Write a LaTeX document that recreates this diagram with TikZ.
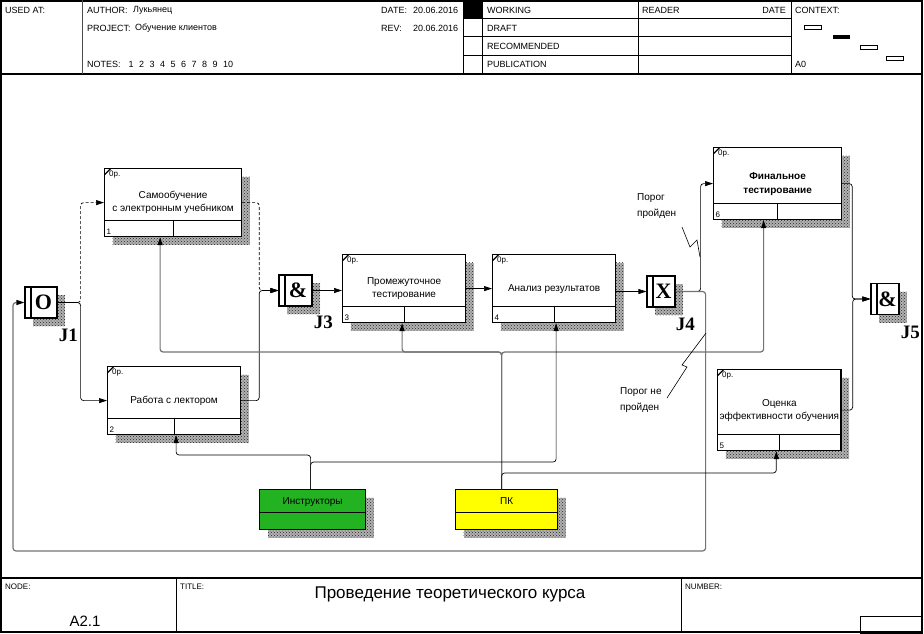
\documentclass[tikz,border=0pt]{standalone}
\usepackage{fontspec}
\setmainfont{Liberation Sans}
\newfontfamily\jfont{Liberation Serif}
\usepackage{tikz}
\usetikzlibrary{arrows.meta, positioning, shadows, patterns}
\definecolor{insgreen}{RGB}{34,178,34}
\definecolor{pkyellow}{RGB}{255,255,0}

\begin{document}
\begin{tikzpicture}[x=1pt, y=-1pt,
    every node/.style={font=\fontsize{10}{13}\selectfont},
    hdr/.style={anchor=west, inner sep=0pt, font=\fontsize{9}{9}\selectfont},
    ftr/.style={anchor=west, inner sep=0pt, font=\fontsize{8}{8}\selectfont},
    tag/.style={inner sep=2.5pt, font=\fontsize{8}{8}\selectfont},
    shdw/.style={general shadow={shadow xshift=8pt, shadow yshift=-8pt, fill=black!30},
        general shadow={shadow xshift=8pt, shadow yshift=-8pt, pattern=crosshatch dots, pattern color=black!85}},
    uow/.style={draw, line width=1.2pt, fill=white, anchor=north west, align=center, inner sep=2pt, shdw,
        path picture={
            \draw[line width=1.2pt] ([yshift=16pt]path picture bounding box.south west) -- ([yshift=16pt]path picture bounding box.south east);
            \draw[line width=1.2pt] ([yshift=16pt]path picture bounding box.south) -- (path picture bounding box.south);
            \draw[line width=1.2pt] ([yshift=-6pt]path picture bounding box.north west) -- ([xshift=6pt]path picture bounding box.north west);
        },
        label={[tag, anchor=north west, xshift=2.5pt]north west:0р.}},
    junc/.style={draw, line width=1.2pt, fill=white, minimum width=30pt, minimum height=31pt, inner sep=0pt, shdw,
        font=\jfont\bfseries\fontsize{22}{22}\selectfont, execute at begin node={\kern5pt},
        path picture={\draw[line width=1.2pt] ([xshift=6pt]path picture bounding box.north west) -- ([xshift=6pt]path picture bounding box.south west);}},
    jlab/.style={inner sep=0pt, font=\jfont\bfseries\fontsize{19}{19}\selectfont},
    grp/.style={draw, line width=1.2pt, anchor=north west, minimum height=40pt, inner sep=0pt, shdw,
        text height=7pt, text depth=18pt,
        path picture={\draw[line width=1.2pt] ([yshift=17pt]path picture bounding box.south west) -- ([yshift=17pt]path picture bounding box.south east);}},
    link/.style={draw, line width=0.7pt, rounded corners=3pt, -{Triangle[length=8pt, width=5pt]}},
    bus/.style={link, draw=black!55, line width=1.2pt, -{Triangle[length=8pt, width=5pt, black]}},
    dsh/.style={dash pattern=on 3pt off 2pt},
    bolt/.style={draw, line width=0.6pt},
    lbl/.style={anchor=north west, align=left, inner sep=0pt, font=\fontsize{10}{16}\selectfont}]

\useasboundingbox (0,0) rectangle (924,633);

% frame, header and footer
\draw[line width=1.5pt] (1,1) rectangle (922,632);
\draw[line width=1.5pt] (0,74) -- (922,74);
\draw[line width=1.5pt] (0,578) -- (922,578);
\draw[line width=1pt, black!70] (82,0) -- (82,74);
\draw[line width=0.8pt] (463,0) -- (463,74) (482,0) -- (482,74) (638,0) -- (638,74) (791,0) -- (791,74);
\draw[line width=0.8pt] (463,18) -- (791,18) (463,36) -- (791,36) (463,55) -- (791,55);
\fill (463,0) rectangle (482,18);
\draw[line width=0.8pt] (804,25) rectangle (821,29) (860,45) rectangle (877,49) (886,56) rectangle (903,60);
\fill (833,35) rectangle (850,39);
\draw[line width=0.8pt] (176,578) -- (176,633) (681,578) -- (681,633);
\draw[line width=0.8pt] (860,616) rectangle (922,633);

\node[hdr] (used) at (5,10) {USED AT:};
\node[hdr] (auth) at (87,10) {AUTHOR:};
\node[hdr] (authv) at (133,10) {Лукьянец};
\node[hdr] (proj) at (87,28) {PROJECT:};
\node[hdr] (projv) at (135,28) {Обучение клиентов};
\node[hdr] (notes) at (87,64) {NOTES:\hspace{8pt}{\spaceskip=5.5pt 1 2 3 4 5 6 7 8 9 10}};
\node[hdr] (date) at (381,10) {DATE:};
\node[hdr] (datev) at (413,10) {20.06.2016};
\node[hdr] (rev) at (381,28) {REV:};
\node[hdr] (revv) at (413,28) {20.06.2016};
\node[hdr] (wrk) at (487,10) {WORKING};
\node[hdr] (drf) at (487,28) {DRAFT};
\node[hdr] (rec) at (487,46) {RECOMMENDED};
\node[hdr] (pub) at (487,64) {PUBLICATION};
\node[hdr] (rdr) at (642,10) {READER};
\node[hdr, anchor=east] (rdate) at (786,10) {DATE};
\node[hdr] (ctx) at (795,10) {CONTEXT:};
\node[hdr] (a0) at (795,64) {A0};
\node[ftr] (nd) at (5,587) {NODE:};
\node[ftr] (ttl) at (180,587) {TITLE:};
\node[ftr] (num) at (685,587) {NUMBER:};
\node[inner sep=0pt, font=\fontsize{17}{17}\selectfont] (title) at (450,594) {Проведение теоретического курса};
\node[inner sep=0pt, font=\fontsize{15}{15}\selectfont] (a21) at (85,621) {A2.1};

% units of work
\node[uow, minimum width=137pt, minimum height=68pt, label={[tag, anchor=south west]south west:1}] (b1) at (104,168) {Самообучение\\с электронным учебником};
\node[uow, minimum width=133pt, minimum height=68pt, label={[tag, anchor=south west]south west:2}] (b2) at (107,366) {Работа с лектором};
\node[uow, minimum width=123pt, minimum height=68pt, label={[tag, anchor=south west]south west:3}] (b3) at (342,254) {Промежуточное\\тестирование};
\node[uow, minimum width=123pt, minimum height=68pt, label={[tag, anchor=south west]south west:4}] (b4) at (492,254) {Анализ результатов};
\node[uow, minimum width=123pt, minimum height=81pt, label={[tag, anchor=south west]south west:5}] (b5) at (717,369) {Оценка\\эффективности обучения};
\node[uow, minimum width=128pt, minimum height=72pt, font=\fontsize{10}{14}\selectfont\bfseries, label={[tag, anchor=south west]south west:6}] (b6) at (713,147) {Финальное\\тестирование};

% junctions
\node[junc, minimum width=32pt] (j1) at (41,302.5) {O};
\node[junc, minimum width=33pt] (j3) at (295.5,290.5) {\&};
\node[junc, minimum width=28pt] (j4) at (661,291.5) {X};
\node[junc, minimum width=28pt] (j5) at (885,299) {\&};
\node[jlab, below right=10pt and 1pt of j1.south east] (jl1) {J1};
\node[jlab, below right=9pt and 1pt of j3.south east] (jl3) {J3};
\node[jlab, below right=10pt and 0pt of j4.south east] (jl4) {J4};
\node[jlab, below right=11pt and 1pt of j5.south east] (jl5) {J5};

% resources
\node[grp, fill=insgreen, minimum width=106pt] (ins) at (259,489) {Инструкторы};
\node[grp, fill=pkyellow, minimum width=102pt] (pk) at (455,489) {ПК};

% links
\draw[link, dsh] (j1.east) -- ++(23,0) |- (b1.west);
\draw[link] (j1.east) -- ++(23,0) |- (b2.west);
\draw[link, dsh] (b1.east) -- ++(17,0) |- (j3.west);
\draw[link] (b2.east) -- ++(18,0) |- (j3.west);
\draw[link] (j3.east) -- (j3.east -| b3.west);
\draw[link] (b3.east) -- (b4.west);
\draw[link] (b4.east |- j4.west) -- (j4.west);
\draw[link] (j4.east) -- ++(25,0) |- (b6.west);
\draw[bus] (j4.east) -- ++(30,0) |- (13,551) |- (j1.west);
\draw[link] (b6.east) -- ++(10,0) |- (j5.west);
\draw[link] (b5.east) -- ++(11,0) |- (j5.west);

\draw[bus] ([xshift=-5pt]pk.north) -- ++(0,-137) -| ([xshift=-13pt]b1.south);
\draw[bus] ([xshift=-5pt]pk.north) -- ++(0,-137) -| ([xshift=-2pt]b3.south);
\draw[bus] ([xshift=-5pt]pk.north) -- ++(0,-137) -| ([xshift=-14pt]b6.south);
\draw[link] ([xshift=-5pt]pk.north) -- ++(0,-16) -| ([xshift=-3pt]b5.south);
\draw[link] ([xshift=-2pt]ins.north) -- ++(0,-34) -| ([xshift=2pt]b2.south);
\draw[link] ([xshift=-2pt]ins.north) -- ++(0,-27) -| ([xshift=2pt]b4.south);

% conditions
\node[lbl] (lp1) at (637,193) {Порог\\пройден};
\node[lbl] (lp2) at (620,387) {Порог не\\пройден};
\draw[bolt] (682,227) -- (690,247) -- (697,240) -- (700,257);
\draw[bolt] (667,398) -- (687,367) -- (682,365) -- (706,333);

\end{tikzpicture}
\end{document}
